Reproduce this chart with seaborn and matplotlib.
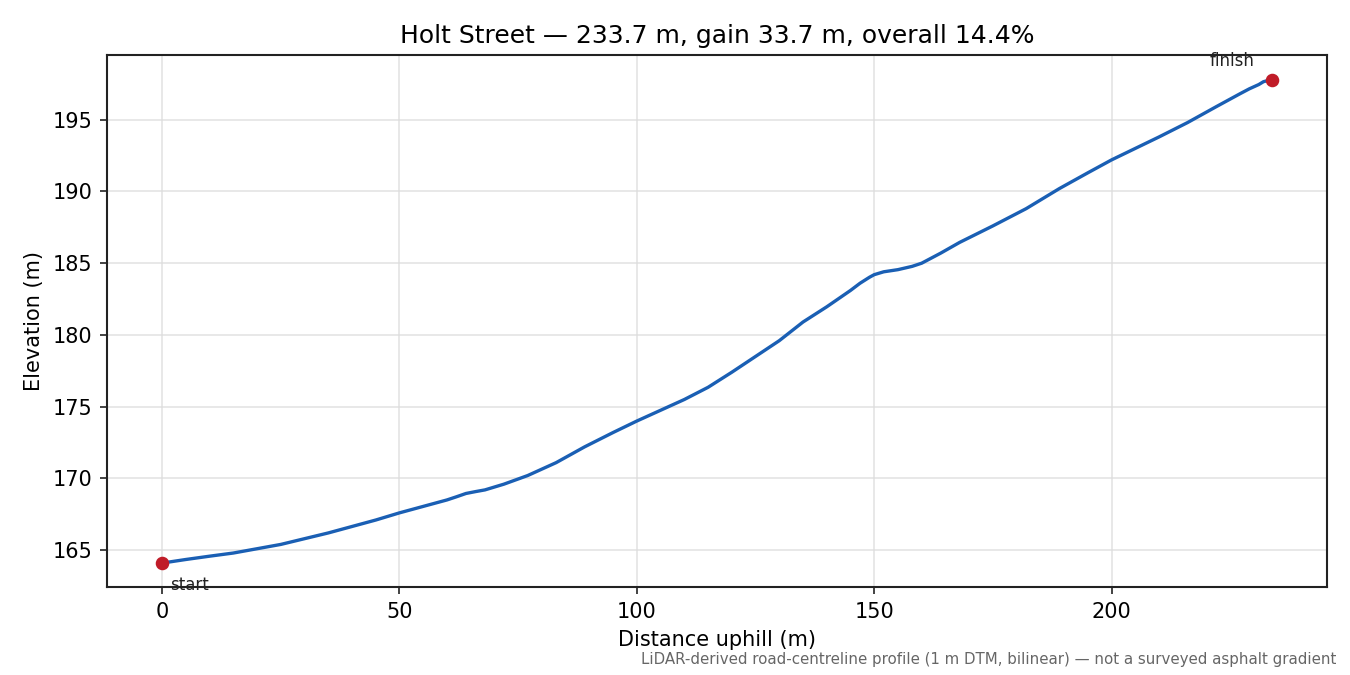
import matplotlib
matplotlib.use("Agg")
import matplotlib.pyplot as plt
import seaborn as sns
import pandas as pd

distance_m = [0, 5, 10, 15, 20, 25, 30, 35, 40, 45, 50, 55, 60, 62, 64, 66, 68, 72, 77, 83, 89,
              95, 100, 105, 110, 115, 120, 125, 130, 135, 140, 145, 147, 149, 150, 152, 155,
              158, 160, 164, 168, 175, 182, 189, 195, 200, 205, 210, 216, 222, 227, 229,
              231, 232, 233.7]
elevation_m = [164.1, 164.35, 164.58, 164.8, 165.1, 165.4, 165.8, 166.2, 166.65, 167.1,
               167.6, 168.05, 168.5, 168.72, 168.95, 169.08, 169.2, 169.6, 170.2, 171.1, 172.2,
               173.2, 174.0, 174.75, 175.5, 176.35, 177.4, 178.5, 179.6, 180.9, 181.96,
               183.1, 183.6, 184.02, 184.2, 184.4, 184.55,
               184.78, 185.0, 185.7, 186.45, 187.6, 188.8, 190.2, 191.3, 192.2, 193.0,
               193.8, 194.8, 195.9, 196.8, 197.15, 197.45, 197.65, 197.8]

title = "Holt Street \u2014 233.7 m, gain 33.7 m, overall 14.4%"
footnote = "LiDAR-derived road-centreline profile (1 m DTM, bilinear) \u2014 not a surveyed asphalt gradient"

df = pd.DataFrame({"distance": distance_m, "elevation": elevation_m})

sns.set_theme(style="white")
plt.rcParams["font.family"] = ["DejaVu Sans"]
plt.rcParams["text.color"] = "black"
plt.rcParams["axes.labelcolor"] = "black"

fig, ax = plt.subplots(figsize=(9, 4.5), dpi=150)
fig.subplots_adjust(left=0.079, right=0.983, top=0.918, bottom=0.130)

sns.lineplot(data=df, x="distance", y="elevation", ax=ax, color="#1a5fb4", lw=1.6)
ends = df.iloc[[0, -1]]
ax.plot(ends["distance"], ends["elevation"], "o", color="#c01c28", ms=5.5, zorder=5)

ax.annotate("start", (distance_m[0], elevation_m[0]), xytext=(4, -6),
            textcoords="offset points", ha="left", va="top", fontsize=8, color="#222222")
ax.annotate("finish", (distance_m[-1], elevation_m[-1]), xytext=(-8, 4.5),
            textcoords="offset points", ha="right", va="bottom", fontsize=8, color="#222222")

ax.grid(True, color="#dddddd", lw=0.8, alpha=0.8)
for s in ax.spines.values():
    s.set_color("#222222")
    s.set_linewidth(1.0)
ax.tick_params(axis="both", which="both", bottom=True, left=True, length=3.5, width=0.8,
               colors="#222222", labelsize=10, labelcolor="black")
ax.set_xlabel("Distance uphill (m)", fontsize=10, color="black")
ax.set_ylabel("Elevation (m)", fontsize=10, color="black")
ax.set_title(title, fontsize=12, color="black")
ax.set_xticks([0, 50, 100, 150, 200])
ax.set_yticks([165, 170, 175, 180, 185, 190, 195])

fig.text(0.99, 0.012, footnote, ha="right", va="bottom", fontsize=7.2, color="#666666")

fig.savefig("out.png", dpi=150)
